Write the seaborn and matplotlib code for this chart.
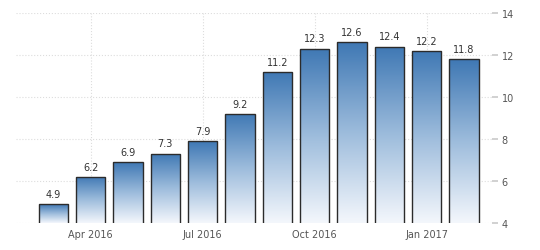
import numpy as np
import pandas as pd
import matplotlib
matplotlib.use("Agg")
import matplotlib.pyplot as plt
import seaborn as sns
from matplotlib.colors import LinearSegmentedColormap

months = ["Mar 2016", "Apr 2016", "May 2016", "Jun 2016", "Jul 2016", "Aug 2016",
          "Sep 2016", "Oct 2016", "Nov 2016", "Dec 2016", "Jan 2017", "Feb 2017"]
values = [4.9, 6.2, 6.9, 7.3, 7.9, 9.2, 11.2, 12.3, 12.6, 12.4, 12.2, 11.8]
xtick_labels = ["Apr 2016", "Jul 2016", "Oct 2016", "Jan 2017"]
yticks = [4, 6, 8, 10, 12, 14]

sns.set_theme(style="white")
plt.rcParams['font.family'] = ['DejaVu Sans']

df = pd.DataFrame({"month": months, "value": values})

fig = plt.figure(figsize=(5.4, 2.51), dpi=100)
ax = fig.add_axes([16/540, 27/251, 476/540, 210/251])

sns.barplot(data=df, x="month", y="value", ax=ax, width=0.78,
            facecolor="none", edgecolor="#2b2b2b", linewidth=1.0, zorder=3)

ymin, ymax = 4, 14
ax.set_ylim(ymin, ymax)
ax.set_xlim(-1, 11.75)

cmap = LinearSegmentedColormap.from_list("g", ["#f4f7fc", "#9dbcdc", "#3f78b4"])
grad = np.linspace(0, 1, 256).reshape(-1, 1)
for p in ax.patches:
    x0 = p.get_x(); w = p.get_width(); h = p.get_height(); y0 = p.get_y()
    top = y0 + h
    im = ax.imshow(grad, extent=[x0, x0 + w, ymin, top], origin="lower",
                   aspect="auto", cmap=cmap, zorder=2)
    im.set_clip_path(p)
ax.set_xlim(-1, 11.75)
ax.set_ylim(ymin, ymax)

for i, v in enumerate(values):
    ax.text(i, v + 0.25, f"{v:.1f}", ha="center", va="bottom",
            fontsize=7, color="#333333", zorder=4)

ax.yaxis.tick_right()
ax.set_yticks(yticks)
ax.set_yticklabels([str(t) for t in yticks])
tick_pos = [months.index(m) for m in xtick_labels]
ax.set_xticks(tick_pos)
ax.set_xticklabels(xtick_labels)
ax.tick_params(axis="both", labelsize=7, colors="#555555", length=0, pad=4)
ax.tick_params(axis="y", length=4, color="#cccccc", pad=3)
ax.grid(True, axis="both", color="#dddddd", linestyle=":", linewidth=0.8, zorder=0)
ax.set_axisbelow(True)
for s in ax.spines.values():
    s.set_visible(False)
ax.set_xlabel("")
ax.set_ylabel("")

fig.savefig("out.png", dpi=100)
